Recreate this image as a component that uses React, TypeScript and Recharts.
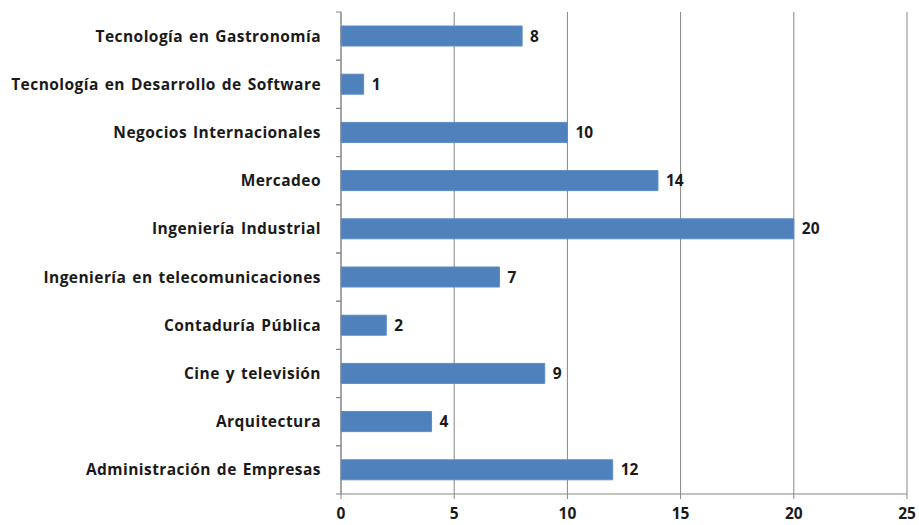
import { Bar, BarChart, CartesianGrid, LabelList, XAxis, YAxis } from "recharts"

const carreras = [
  "Tecnología en Gastronomía",
  "Tecnología en Desarrollo de Software",
  "Negocios Internacionales",
  "Mercadeo",
  "Ingeniería Industrial",
  "Ingeniería en telecomunicaciones",
  "Contaduría Pública",
  "Cine y televisión",
  "Arquitectura",
  "Administración de Empresas",
]
const estudiantes = [8, 1, 10, 14, 20, 7, 2, 9, 4, 12]
const xTicks = [0, 5, 10, 15, 20, 25]

const data = carreras.map((carrera, i) => ({ carrera, estudiantes: estudiantes[i] }))

const W = 919
const H = 525
const TOP = 12
const X_AXIS_H = 31
const BAND = (H - TOP - X_AXIS_H) / carreras.length
const FONT = "'Open Sans', sans-serif"
const AXIS = "#868686"
const TEXT = "#1a1a1a"

function CategoryTick(props: any) {
  const { x, y, payload } = props
  const axisX = x + 5 + 15
  return (
    <g>
      <line x1={axisX - 5} x2={axisX} y1={y - BAND / 2} y2={y - BAND / 2} stroke={AXIS} />
      <line x1={axisX - 5} x2={axisX} y1={y + BAND / 2} y2={y + BAND / 2} stroke={AXIS} />
      <text
        x={x}
        y={y}
        dy="0.35em"
        textAnchor="end"
        fill={TEXT}
        fontFamily={FONT}
        fontWeight={700}
        fontSize={15.5}
        letterSpacing={0.45}
        wordSpacing={1.5}
      >
        {payload.value}
      </text>
    </g>
  )
}

export default function App() {
  return (
    <div style={{ width: W, height: H, background: "#fff" }}>
      <style>{"body{margin:0}"}</style>
      <BarChart
        width={W}
        height={H}
        data={data}
        layout="vertical"
        margin={{ top: TOP, right: 12, bottom: 0, left: 0 }}
      >
        <CartesianGrid horizontal={false} stroke={AXIS} />
        <XAxis
          type="number"
          domain={[0, 25]}
          ticks={xTicks}
          height={X_AXIS_H}
          stroke={AXIS}
          tickSize={5}
          tickMargin={9}
          tick={{ fill: TEXT, fontFamily: FONT, fontWeight: 700, fontSize: 15.5 }}
        />
        <YAxis
          type="category"
          dataKey="carrera"
          width={341}
          stroke={AXIS}
          tickLine={false}
          tickSize={5}
          tickMargin={15}
          tick={<CategoryTick />}
          interval={0}
        />
        <Bar dataKey="estudiantes" fill="#4F81BD" stroke="#5b8bc6" barSize={20} isAnimationActive={false}>
          <LabelList
            dataKey="estudiantes"
            position="right"
            offset={8}
            fill={TEXT}
            fontFamily={FONT}
            fontWeight={700}
            fontSize={15.5}
          />
        </Bar>
      </BarChart>
    </div>
  )
}
